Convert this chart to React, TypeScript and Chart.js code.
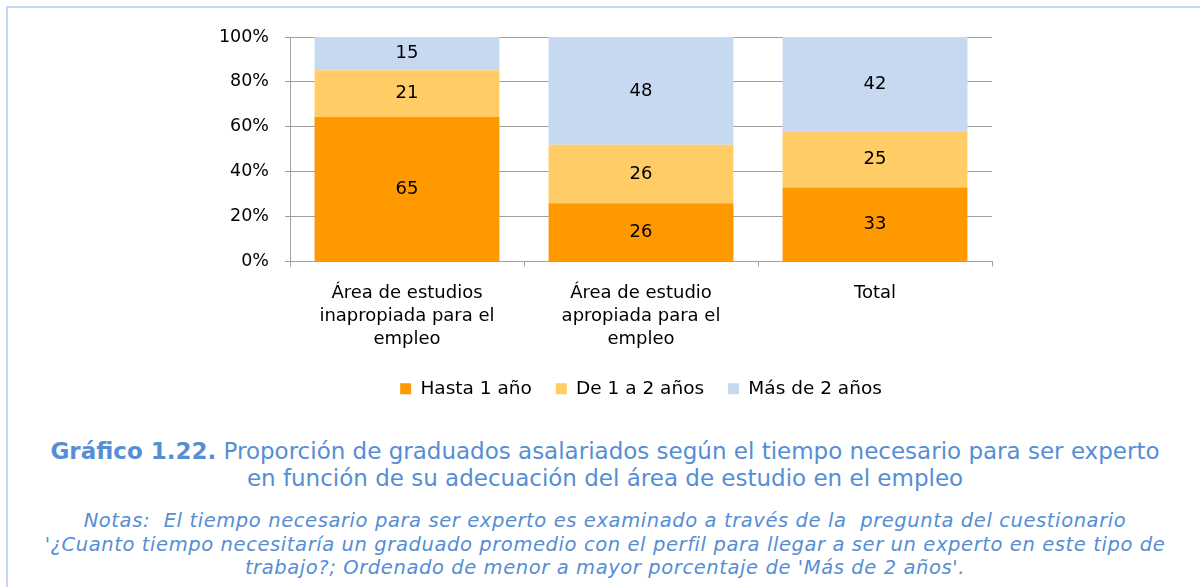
import React, { useEffect, useRef } from "react";
import { Chart, registerables } from "chart.js";

Chart.register(...registerables);

// ---- data ----
const categories: (string | string[])[] = [
  ["Área de estudios", "inapropiada para el", "empleo"],
  ["Área de estudio", "apropiada para el", "empleo"],
  "Total",
];
const seriesNames = ["Hasta 1 año", "De 1 a 2 años", "Más de 2 años"];
const hasta1 = [65, 26, 33];
const de1a2 = [21, 26, 25];
const mas2 = [15, 48, 42];
const seriesColors = ["#FF9900", "#FFCC66", "#C6D9F1"];
const yTickValues = [0, 20, 40, 60, 80, 100];

const titleBold = "Gráfico 1.22.";
const titleLines = [
  " Proporción de graduados asalariados según el tiempo necesario para ser experto",
  "en función de su adecuación del área de estudio en el empleo",
];
const noteLines = [
  "Notas:  El tiempo necesario para ser experto es examinado a través de la  pregunta del cuestionario",
  "'¿Cuanto tiempo necesitaría un graduado promedio con el perfil para llegar a ser un experto en este tipo de",
  "trabajo?; Ordenado de menor a mayor porcentaje de 'Más de 2 años'.",
];

const FONT = '"DejaVu Sans", Verdana, sans-serif';
const GRID = "#A0A0A0";

const rawSeries = [hasta1, de1a2, mas2];
const totals = categories.map((_, i) => rawSeries.reduce((s, arr) => s + arr[i], 0));

const valueLabels = {
  id: "valueLabels",
  afterDatasetsDraw(chart: any) {
    const ctx = chart.ctx;
    ctx.save();
    ctx.font = `18px ${FONT}`;
    ctx.fillStyle = "#000";
    ctx.textAlign = "center";
    ctx.textBaseline = "middle";
    chart.data.datasets.forEach((ds: any, di: number) => {
      const meta = chart.getDatasetMeta(di);
      meta.data.forEach((el: any, i: number) => {
        const { x, y, base } = el.getProps(["x", "y", "base"], true);
        ctx.fillText(String(ds.raw[i]), x, (y + base) / 2);
      });
    });
    ctx.restore();
  },
};

export default function App() {
  const ref = useRef<HTMLCanvasElement | null>(null);

  useEffect(() => {
    if (!ref.current) return;
    const chart = new Chart(ref.current, {
      type: "bar",
      data: {
        labels: categories as any,
        datasets: rawSeries.map((arr, si) => ({
          label: seriesNames[si],
          data: arr.map((v, i) => (v / totals[i]) * 100),
          raw: arr,
          backgroundColor: seriesColors[si],
          borderWidth: 0,
          categoryPercentage: 1,
          barPercentage: 0.79,
        })) as any,
      },
      options: {
        responsive: false,
        animation: false,
        devicePixelRatio: 1,
        layout: { padding: { left: 200, right: 208, top: 37, bottom: 12 } },
        plugins: {
          tooltip: { enabled: false },
          title: { display: false },
          legend: {
            position: "bottom",
            fullSize: false,
            labels: {
              boxWidth: 11,
              boxHeight: 11,
              padding: 24,
              color: "#000",
              font: { family: FONT, size: 18.5 },
            },
          },
        },
        scales: {
          x: {
            stacked: true,
            afterFit: (s: any) => {
              s.height = 94;
            },
            grid: {
              display: true,
              drawOnChartArea: false,
              offset: true,
              tickLength: 5,
              color: GRID,
            },
            border: { color: GRID, width: 1 },
            ticks: {
              autoSkip: false,
              maxRotation: 0,
              minRotation: 0,
              padding: 15,
              color: "#000",
              font: { family: FONT, size: 18, lineHeight: 23 / 18 },
            },
          },
          y: {
            stacked: true,
            min: 0,
            max: 100,
            afterFit: (s: any) => {
              s.width = 90;
            },
            afterBuildTicks: (s: any) => {
              s.ticks = yTickValues.map((v) => ({ value: v }));
            },
            grid: { color: GRID, tickLength: 5 },
            border: { color: GRID, width: 1 },
            ticks: {
              padding: 16,
              color: "#000",
              font: { family: FONT, size: 17.5 },
              callback: (v: any) => `${v}%`,
            },
          },
        },
      },
      plugins: [valueLabels],
    });
    return () => chart.destroy();
  }, []);

  return (
    <div
      style={{
        position: "fixed",
        left: 0,
        top: 0,
        width: 1200,
        height: 587,
        overflow: "hidden",
        background: "#fff",
      }}
    >
      <div
        style={{
          position: "absolute",
          left: 6,
          top: 6,
          width: 1194,
          height: 581,
          borderLeft: "2px solid #C6D9F1",
          borderTop: "2px solid #C6D9F1",
          boxSizing: "border-box",
        }}
      />
      <canvas
        ref={ref}
        width={1200}
        height={420}
        style={{ position: "absolute", left: 0, top: 0, width: 1200, height: 420 }}
      />
      <div
        style={{
          position: "absolute",
          left: 0,
          top: 437.5,
          width: 1210,
          textAlign: "center",
          color: "#558ED5",
          fontFamily: FONT,
          fontSize: 23,
          lineHeight: "27px",
          whiteSpace: "pre",
        }}
      >
        <div>
          <b>{titleBold}</b>
          {titleLines[0]}
        </div>
        <div>{titleLines[1]}</div>
      </div>
      <div
        style={{
          position: "absolute",
          left: 0,
          top: 509,
          width: 1210,
          textAlign: "center",
          color: "#558ED5",
          fontFamily: FONT,
          fontStyle: "italic",
          fontSize: 19.5,
          letterSpacing: "0.6px",
          lineHeight: "23.5px",
          whiteSpace: "pre",
        }}
      >
        {noteLines.map((l, i) => (
          <div key={i}>{l}</div>
        ))}
      </div>
    </div>
  );
}
